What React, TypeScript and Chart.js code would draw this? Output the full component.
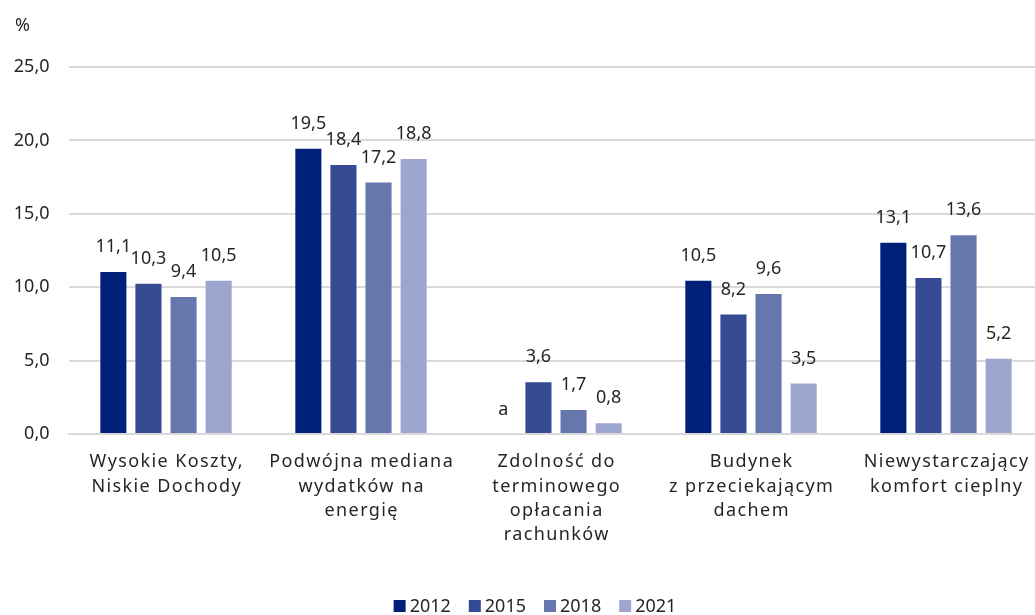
import React, { useEffect, useRef } from "react";
import { Chart, registerables } from "chart.js";

Chart.register(...registerables);

const categories: string[][] = [
  ["Wysokie Koszty,", "Niskie Dochody"],
  ["Podwójna mediana", "wydatków na", "energię"],
  ["Zdolność do", "terminowego", "opłacania", "rachunków"],
  ["Budynek", "z przeciekającym", "dachem"],
  ["Niewystarczający", "komfort cieplny"],
];

const years = ["2012", "2015", "2018", "2021"];
const s2012: (number | null)[] = [11.1, 19.5, null, 10.5, 13.1];
const s2015: (number | null)[] = [10.3, 18.4, 3.6, 8.2, 10.7];
const s2018: (number | null)[] = [9.4, 17.2, 1.7, 9.6, 13.6];
const s2021: (number | null)[] = [10.5, 18.8, 0.8, 3.5, 5.2];
const missingLabel = "a";
const yTicks = [0, 5, 10, 15, 20, 25];
const unitLabel = "%";

const colors = ["#00207a", "#344a92", "#6677ae", "#9ca6cf"];
const FONT = "'Noto Sans', 'Open Sans', sans-serif";
const FS = 18;
const TEXT = "#262626";

const fmt = (v: number, d = 1) => v.toFixed(d).replace(".", ",");

export default function App() {
  const ref = useRef<HTMLCanvasElement | null>(null);

  useEffect(() => {
    if (!ref.current) return;
    const series = [s2012, s2015, s2018, s2021];

    const labelsPlugin = {
      id: "valueLabels",
      afterDatasetsDraw(chart: any) {
        const ctx = chart.ctx;
        const yScale = chart.scales.y;
        ctx.save();
        ctx.font = `${FS}px ${FONT}`;
        ctx.fillStyle = TEXT;
        ctx.textAlign = "center";
        ctx.textBaseline = "middle";
        chart.data.datasets.forEach((ds: any, di: number) => {
          const meta = chart.getDatasetMeta(di);
          meta.data.forEach((el: any, i: number) => {
            const v = ds.data[i];
            const y = yScale.getPixelForValue(v == null ? 0 : v);
            const txt = v == null ? missingLabel : fmt(v);
            ctx.fillText(txt, el.x, y - 24);
          });
        });
        ctx.restore();
      },
    };

    const extrasPlugin = {
      id: "extras",
      afterDraw(chart: any) {
        const ctx = chart.ctx;
        const xScale = chart.scales.x;
        ctx.save();
        ctx.font = `${FS}px ${FONT}`;
        ctx.fillStyle = TEXT;
        ctx.textBaseline = "middle";
        ctx.textAlign = "left";
        ctx.fillText(unitLabel, 15, 26);

        // category labels (wider letter spacing to mimic the original face)
        ctx.textAlign = "center";
        (ctx as any).letterSpacing = "1.4px";
        categories.forEach((lines, i) => {
          const cx = xScale.getPixelForValue(i) + 0.7;
          lines.forEach((line, k) => {
            ctx.fillText(line, cx, chart.chartArea.bottom + 28 + k * 24.4);
          });
        });
        (ctx as any).letterSpacing = "0px";

        // legend
        ctx.textAlign = "left";
        const box = 12;
        const gap = 4;
        const itemGap = 18;
        const widths = years.map((y) => ctx.measureText(y).width);
        const total =
          widths.reduce((a, w) => a + box + gap + w, 0) + itemGap * (years.length - 1);
        let x = 535 - total / 2;
        const cy = 606;
        years.forEach((y, i) => {
          ctx.fillStyle = colors[i];
          ctx.fillRect(x, cy - box / 2, box, box);
          x += box + gap;
          ctx.fillStyle = TEXT;
          ctx.fillText(y, x, cy + 1);
          x += widths[i] + itemGap;
        });
        ctx.restore();
      },
    };

    const chart = new Chart(ref.current, {
      type: "bar",
      data: {
        labels: categories.map((c) => c.join(" ")),
        datasets: years.map((y, i) => ({
          label: y,
          data: series[i],
          backgroundColor: colors[i],
          borderColor: "rgba(255,255,255,0.3)",
          borderWidth: 1,
          barPercentage: 0.8,
          categoryPercentage: 0.72,
        })),
      },
      options: {
        responsive: false,
        animation: false,
        layout: { padding: { top: 67, left: 0, right: 2.5, bottom: 61 } },
        plugins: {
          legend: { display: false },
          tooltip: { enabled: false },
        },
        scales: {
          x: {
            grid: { display: false, drawTicks: false },
            border: { display: true, color: "#d9d9d9", width: 2 },
            ticks: { display: false },
            afterFit: (s: any) => {
              s.height = 120;
            },
          },
          y: {
            min: 0,
            max: 25,
            afterBuildTicks: (s: any) => {
              s.ticks = yTicks.map((v) => ({ value: v }));
            },
            grid: { color: "#d9d9d9", lineWidth: 2, drawTicks: false },
            border: { display: false },
            ticks: {
              color: TEXT,
              font: { family: FONT, size: FS },
              padding: 19,
              callback: (v: any) => fmt(Number(v)),
            },
            afterFit: (s: any) => {
              s.width = 68.5;
            },
          },
        },
      },
      plugins: [labelsPlugin, extrasPlugin],
    });
    return () => chart.destroy();
  }, []);

  return (
    <div
      style={{
        position: "fixed",
        left: 0,
        top: 0,
        width: 1035,
        height: 615,
        overflow: "hidden",
        background: "#fff",
      }}
    >
      <canvas ref={ref} width={1046} height={615} style={{ display: "block" }} />
    </div>
  );
}
